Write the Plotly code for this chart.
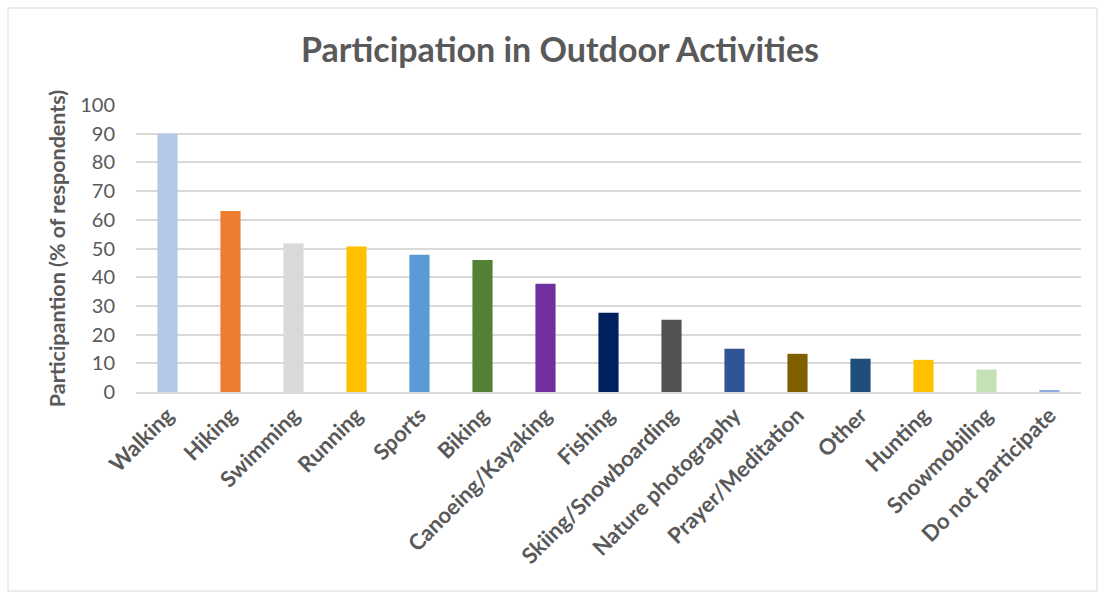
import plotly.graph_objects as go

categories = ["Walking", "Hiking", "Swimming", "Running", "Sports", "Biking",
              "Canoeing/Kayaking", "Fishing", "Skiing/Snowboarding",
              "Nature photography", "Prayer/Meditation", "Other", "Hunting",
              "Snowmobiling", "Do not participate"]
values = [90, 63.1, 51.7, 50.7, 47.8, 46.0, 37.7, 27.6, 25.2, 15.1, 13.3, 11.6, 11.2, 7.8, 0.4]
colors = ["#B4C7E7", "#ED7D31", "#D9D9D9", "#FFC000", "#5B9BD5", "#548235",
          "#7030A0", "#002060", "#525252", "#2F5597", "#7F6000", "#1F4E79",
          "#FFC000", "#C5E0B4", "#8FAADC"]
y_ticks = list(range(0, 101, 10))

W, H = 1099, 594
L, R, T, B = 136, 18, 105, 202
pw, ph = W - L - R, H - T - B

fig = go.Figure(go.Bar(x=categories, y=values, marker=dict(color=colors, line=dict(width=0))))

def px_x(p):
    return (p - L) / pw

def px_y(p):
    return (H - B - p) / ph

fig.update_layout(
    width=W, height=H,
    margin=dict(l=L, r=R, t=T, b=B, autoexpand=False),
    paper_bgcolor="white", plot_bgcolor="white",
    bargap=0.68,
    showlegend=False,
    font=dict(family="Lato, Open Sans, sans-serif", color="#595959"),
    title=dict(text="<b>Participation in Outdoor Activities</b>", x=560 / W, xanchor="center",
               xref="container", y=1 - 50 / H, yanchor="middle", yref="container",
               font=dict(size=34, color="#595959", family="Lato, sans-serif")),
    yaxis=dict(range=[0, 100], tickvals=y_ticks, showgrid=True, gridcolor="#D9D9D9",
               gridwidth=1.5, zeroline=False, showline=False, automargin=False,
               tickfont=dict(size=20, color="#595959"), ticks="", ticklabelstandoff=20,
               title=dict(text="<b>Participantion (% of respondents)</b>",
                          font=dict(size=21.5, color="#595959"), standoff=8)),
    xaxis=dict(showline=True, linecolor="#D9D9D9", linewidth=1.5, ticks="", automargin=False,
               tickangle=-45, tickfont=dict(size=22, color="#595959", weight="bold")),
    shapes=[dict(type="rect", xref="paper", yref="paper",
                 x0=px_x(8), x1=px_x(1097), y0=px_y(591), y1=px_y(8),
                 line=dict(color="#D9D9D9", width=1), fillcolor="rgba(0,0,0,0)", layer="below")],
)

fig.write_html("out.html")
